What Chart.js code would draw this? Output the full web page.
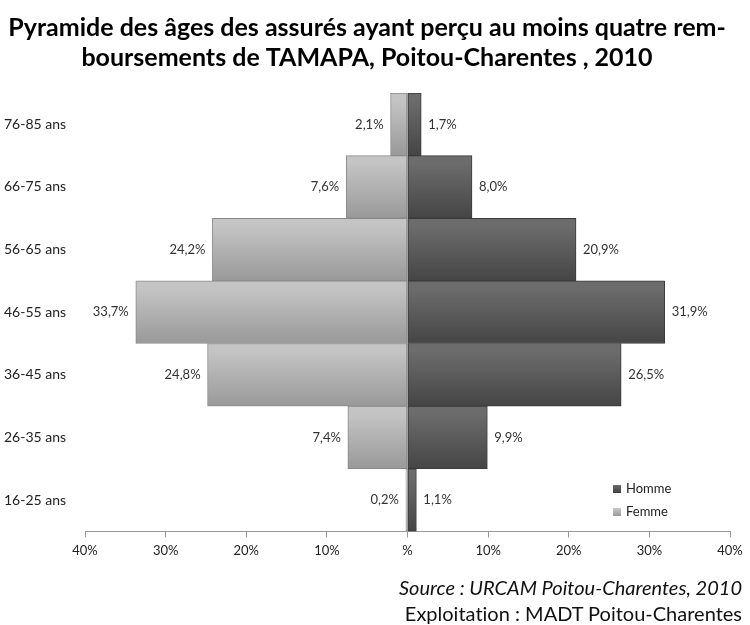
<!DOCTYPE html>
<html lang="fr">
<head>
  <meta charset="UTF-8" />
  <title>Pyramide des âges - TAMAPA</title>
  <style>
    html, body { margin: 0; padding: 0; background: #fff; overflow: hidden; }
    #wrap { position: relative; width: 750px; height: 625px; }
    canvas { display: block; }
    #source {
      position: absolute;
      right: 8px;
      top: 574px;
      text-align: right;
      font-family: Lato, sans-serif;
      font-variant-ligatures: none;
      font-size: 20px;
      line-height: 26px;
      color: #111;
    }
    #source .src { font-style: italic; }
  </style>
  <script src="https://cdn.jsdelivr.net/npm/chart.js"></script>
</head>
<body>
  <div id="wrap">
    <canvas id="pyramide" width="750" height="625"></canvas>
    <div id="source">
      <div class="src">Source : URCAM Poitou-Charentes, 2010</div>
      <div>Exploitation : MADT Poitou-Charentes</div>
    </div>
  </div>

  <script>
    // tranches d'âge, du haut vers le bas
    const ages = ["76-85 ans", "66-75 ans", "56-65 ans", "46-55 ans", "36-45 ans", "26-35 ans", "16-25 ans"];
    const homme = [1.7, 8.0, 20.9, 31.9, 26.5, 9.9, 1.1];
    const femme = [2.1, 7.6, 24.2, 33.7, 24.8, 7.4, 0.2];
    const xTicks = [-40, -30, -20, -10, 0, 10, 20, 30, 40];

    const fmt = (v) => Math.abs(v).toFixed(1).replace(".", ",") + "%";

    function barGradient(ctx, top, bottom) {
      const chart = ctx.chart;
      const y = chart.scales.y;
      if (!y || ctx.dataIndex === undefined) return bottom;
      const yc = y.getPixelForValue(ctx.dataIndex);
      const h = y.height / ages.length;
      if (!isFinite(yc) || !isFinite(h) || h <= 0) return bottom;
      const g = chart.ctx.createLinearGradient(0, yc - h / 2, 0, yc + h / 2);
      g.addColorStop(0, top);
      g.addColorStop(0.12, top);
      g.addColorStop(1, bottom);
      return g;
    }

    // étiquettes de valeur + légende dans le graphique
    const labelsPlugin = {
      id: "labels",
      afterDatasetsDraw(chart) {
        const c = chart.ctx;
        c.save();
        c.font = "13px Lato, sans-serif";
        c.fillStyle = "#333";
        c.textBaseline = "middle";
        chart.data.datasets.forEach((ds, di) => {
          chart.getDatasetMeta(di).data.forEach((bar, i) => {
            const v = ds.data[i];
            if (v < 0) {
              c.textAlign = "right";
              c.fillText(fmt(v), bar.x - 7, bar.y);
            } else {
              c.textAlign = "left";
              c.fillText(fmt(v), bar.x + 7, bar.y);
            }
          });
        });
        // légende
        const items = [
          { label: "Homme", top: "#6a6a6a", bottom: "#404040" },
          { label: "Femme", top: "#c8c8c8", bottom: "#9a9a9a" }
        ];
        c.font = "13px Lato, sans-serif";
        c.textAlign = "left";
        items.forEach((it, k) => {
          const y = 489 + k * 23;
          const g = c.createLinearGradient(0, y - 4, 0, y + 4);
          g.addColorStop(0, it.top);
          g.addColorStop(1, it.bottom);
          c.fillStyle = g;
          c.fillRect(613, y - 4, 8, 8);
          c.fillStyle = "#222";
          c.fillText(it.label, 626, y);
        });
        c.restore();
      }
    };

    new Chart(document.getElementById("pyramide"), {
      type: "bar",
      data: {
        labels: ages,
        datasets: [
          {
            label: "Homme",
            data: homme,
            backgroundColor: (ctx) => barGradient(ctx, "#6c6c6c", "#454545"),
            borderColor: "#3a3a3a",
            borderWidth: 1,
            borderSkipped: false,
            barPercentage: 1,
            categoryPercentage: 1
          },
          {
            label: "Femme",
            data: femme.map((v) => -v),
            backgroundColor: (ctx) => barGradient(ctx, "#c4c4c4", "#999999"),
            borderColor: "#8a8a8a",
            borderWidth: 1,
            borderSkipped: false,
            barPercentage: 1,
            categoryPercentage: 1
          }
        ]
      },
      options: {
        indexAxis: "y",
        responsive: false,
        animation: false,
        layout: { padding: { left: 4, right: 20, top: 0, bottom: 60 } },
        plugins: {
          legend: { display: false },
          tooltip: { enabled: false },
          title: {
            display: true,
            text: [
              "Pyramide des âges des assurés ayant perçu au moins quatre rem-",
              "boursements de TAMAPA, Poitou-Charentes , 2010"
            ],
            color: "#000",
            font: { family: "Lato, sans-serif", size: 25, weight: "bold", lineHeight: 1.2 },
            padding: { top: 13, bottom: 20 }
          }
        },
        scales: {
          x: {
            stacked: true,
            min: -40,
            max: 40,
            afterBuildTicks: (axis) => { axis.ticks = xTicks.map((v) => ({ value: v })); },
            ticks: {
              callback: (v) => (v === 0 ? "%" : Math.abs(v) + "%"),
              color: "#222",
              font: { family: "Lato, sans-serif", size: 13 },
              maxRotation: 0,
              padding: 6
            },
            grid: {
              color: (ctx) => (ctx.tick && ctx.tick.value === 0 ? "#b0b0b0" : "transparent"),
              tickColor: "#999",
              tickLength: 6
            },
            border: { display: true, color: "#999" }
          },
          y: {
            stacked: true,
            afterFit: (axis) => { axis.width = 81; },
            ticks: {
              crossAlign: "far",
              color: "#222",
              font: { family: "Lato, sans-serif", size: 14 }
            },
            grid: { display: false },
            border: { display: false }
          }
        }
      },
      plugins: [labelsPlugin]
    });
  </script>
</body>
</html>
